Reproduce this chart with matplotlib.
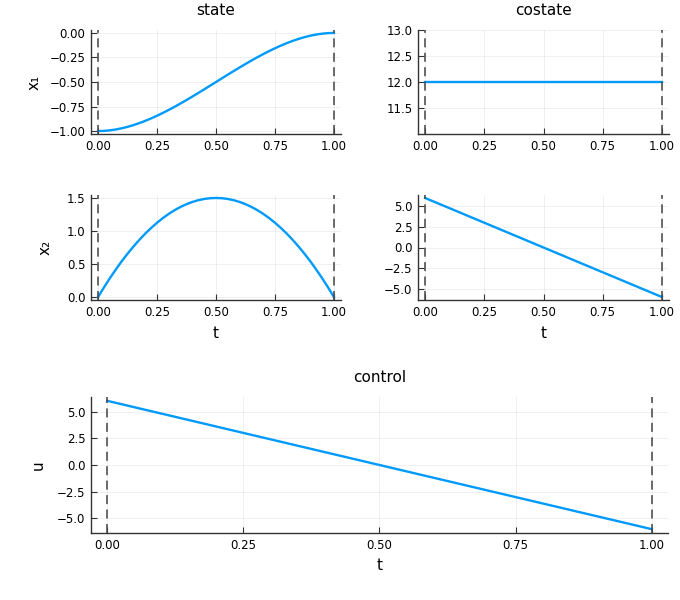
import matplotlib
matplotlib.use("Agg")
import matplotlib.pyplot as plt

# state trajectory samples
t_s = [0.0, 0.025, 0.05, 0.075, 0.1, 0.125, 0.15, 0.175, 0.2, 0.225, 0.25,
       0.275, 0.3, 0.325, 0.35, 0.375, 0.4, 0.425, 0.45, 0.475, 0.5,
       0.525, 0.55, 0.575, 0.6, 0.625, 0.65, 0.675, 0.7, 0.725, 0.75,
       0.775, 0.8, 0.825, 0.85, 0.875, 0.9, 0.925, 0.95, 0.975, 1.0]
x1 = [-1.0, -0.99816, -0.99275, -0.98397, -0.972, -0.95703, -0.93925, -0.91884, -0.896, -0.87091, -0.84375,
      -0.81472, -0.784, -0.75178, -0.71825, -0.68359, -0.648, -0.61166, -0.57475, -0.53747, -0.5,
      -0.46253, -0.42525, -0.38834, -0.352, -0.31641, -0.28175, -0.24822, -0.216, -0.18528, -0.15625,
      -0.12909, -0.104, -0.08116, -0.06075, -0.04297, -0.028, -0.01603, -0.00725, -0.00184, 0.0]
x2 = [0.0, 0.14625, 0.285, 0.41625, 0.54, 0.65625, 0.765, 0.86625, 0.96, 1.04625, 1.125,
      1.19625, 1.26, 1.31625, 1.365, 1.40625, 1.44, 1.46625, 1.485, 1.49625, 1.5,
      1.49625, 1.485, 1.46625, 1.44, 1.40625, 1.365, 1.31625, 1.26, 1.19625, 1.125,
      1.04625, 0.96, 0.86625, 0.765, 0.65625, 0.54, 0.41625, 0.285, 0.14625, 0.0]
# costate / control samples
t_c = [0.0, 0.25, 0.5, 0.75, 1.0]
p1 = [12.0, 12.0, 12.0, 12.0, 12.0]
p2 = [6.0, 3.0, 0.0, -3.0, -6.0]
u = [6.0, 3.0, 0.0, -3.0, -6.0]
t0, tf = 0.0, 1.0
xticks = [0.0, 0.25, 0.5, 0.75, 1.0]

BLUE = "#009AFA"
W, H = 680, 600
fig = plt.figure(figsize=(6.8, 6.0), dpi=100)

def ax_px(l, top, r, b):
    return fig.add_axes([l / W, 1 - b / H, (r - l) / W, (b - top) / H])

def fmt(v, d):
    return f"{v:.{d}f}".replace("-", "\u2212")

def style(ax, tt, y, title=None, ylabel=None, xlabel=None, ylim=None, yticks=None, ydec=1, ylpad=4):
    ax.plot(tt, y, color=BLUE, lw=1.7, zorder=3)
    ax.axvline(t0, color="#444444", alpha=0.85, lw=1.3, ls=(0, (5, 3)), zorder=4)
    ax.axvline(tf, color="#444444", alpha=0.85, lw=1.3, ls=(0, (5, 3)), zorder=4)
    ax.set_xlim(-0.03, 1.03)
    if ylim is None:
        lo, hi = min(y), max(y)
        m = 0.03 * (hi - lo)
        ax.set_ylim(lo - m, hi + m)
    else:
        ax.set_ylim(*ylim)
    ax.set_xticks(xticks)
    ax.set_xticklabels([fmt(v, 2) for v in xticks])
    ax.set_yticks(yticks)
    ax.set_yticklabels([fmt(v, ydec) for v in yticks])
    ax.grid(True, color="black", alpha=0.07, lw=0.6)
    for s in ["top", "right"]:
        ax.spines[s].set_visible(False)
    for s in ["left", "bottom"]:
        ax.spines[s].set_color("#333333")
        ax.spines[s].set_linewidth(1.0)
    ax.tick_params(direction="in", length=4, width=0.8, color="#333333", labelsize=8.5, pad=4)
    if title:
        ax.set_title(title, fontsize=11, pad=11)
    if ylabel:
        ax.set_ylabel(ylabel, fontsize=11, labelpad=ylpad)
    if xlabel:
        ax.set_xlabel(xlabel, fontsize=11, labelpad=5)

a1 = ax_px(91, 30, 341, 134)
style(a1, t_s, x1, title="state", ylabel="x\u2081", yticks=[-1.0, -0.75, -0.5, -0.25, 0.0], ydec=2, ylpad=6)
a2 = ax_px(418, 30, 669, 134)
style(a2, t_c, p1, title="costate", ylim=(11.0, 13.0), yticks=[11.5, 12.0, 12.5, 13.0])
a3 = ax_px(91, 195, 341, 300)
style(a3, t_s, x2, ylabel="x\u2082", xlabel="t", yticks=[0.0, 0.5, 1.0, 1.5], ylpad=10)
a4 = ax_px(418, 195, 669, 300)
style(a4, t_c, p2, xlabel="t", yticks=[-5.0, -2.5, 0.0, 2.5, 5.0])
a5 = ax_px(91, 397, 668, 533)
style(a5, t_c, u, title="control", ylabel="u", xlabel="t", yticks=[-5.0, -2.5, 0.0, 2.5, 5.0], ylpad=8)

fig.savefig("out.png", dpi=100)
